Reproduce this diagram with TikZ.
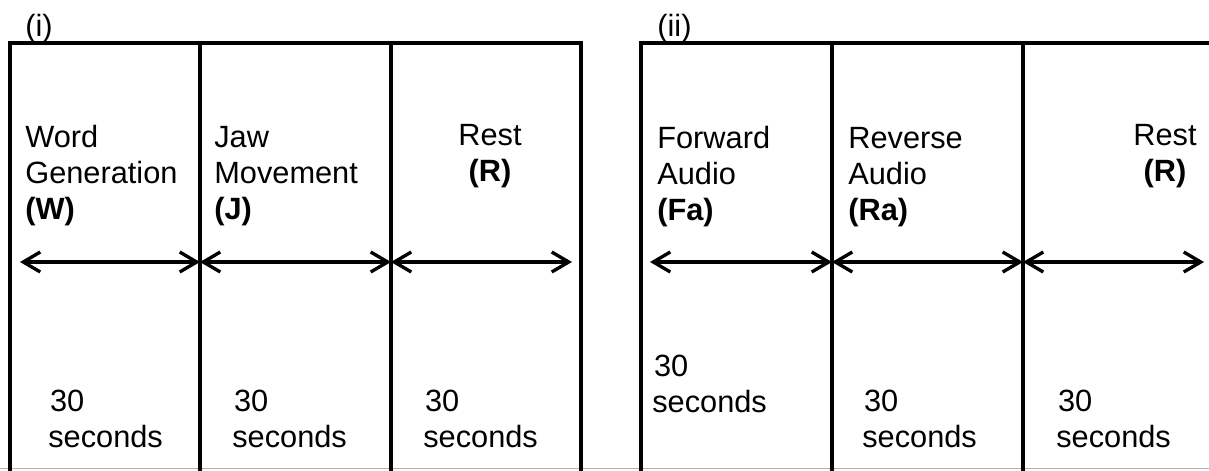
\documentclass[tikz,border=0pt]{standalone}
\usepackage{fontspec}
\setmainfont{Liberation Sans}
\usepackage{tikz}
\usetikzlibrary{arrows.meta, positioning, calc}
\tikzset{
    bord/.style={line width=2.2pt, black, line cap=rect},
    fleche/.style={{Straight Barb[length=3.4mm, width=4mm]}-{Straight Barb[length=3.4mm, width=4mm]}, line width=1.9pt},
    texte/.style={anchor=base west, align=left, inner sep=0pt, font=\fontsize{17.5}{20.4}\selectfont},
    texte centre/.style={texte, anchor=base, align=center},
}

\begin{document}
\begin{tikzpicture}[x=0.02cm, y=-0.02cm]
\useasboundingbox (0,0) rectangle (1209,470);
\draw[gray!60, line width=0.5pt] (0,468.5) -- (1209,468.5);
% (i)
\draw[bord] (10,475) -- (10,43) -- (581,43) -- (581,475);
\draw[bord] (200,43) -- (200,475);
\draw[bord] (391,43) -- (391,475);
% (ii)
\draw[bord] (641,475) -- (641,43) -- (1215,43);
\draw[bord] (832,43) -- (832,475);
\draw[bord] (1023,43) -- (1023,475);
% fleches
\coordinate (a0) at (20,262);
\coordinate (a1) at (200,262);
\coordinate (a2) at (391,262);
\coordinate (a3) at (572,262);
\coordinate (b0) at (650,262);
\coordinate (b1) at (832,262);
\coordinate (b2) at (1023,262);
\coordinate (b3) at (1204,262);
\draw[fleche] (a0) -- (a1);
\draw[fleche] (a1) -- (a2);
\draw[fleche] (a2) -- (a3);
\draw[fleche] (b0) -- (b1);
\draw[fleche] (b1) -- (b2);
\draw[fleche] (b2) -- (b3);
% titres (base = derniere ligne)
\node[texte] (ti) at (25,36) {(i)};
\node[texte] (tii) at (657,36) {(ii)};
\node[texte] (w) at (25,219) {Word\\Generation\\\textbf{(W)}};
\node[texte] (j) at (214,219) {Jaw\\Movement\\\textbf{(J)}};
\node[texte centre] (r1) at (490,181) {Rest\\\textbf{(R)}};
\node[texte] (fa) at (657,220) {Forward\\Audio\\\textbf{(Fa)}};
\node[texte] (ra) at (848,220) {Reverse\\Audio\\\textbf{(Ra)}};
\node[texte centre] (r2) at (1165,181) {Rest\\\textbf{(R)}};
% durees
\node[texte] (d1) at (48,447) {\kern1pt 30\\seconds};
\node[texte] (d2) at (232,447) {\kern1pt 30\\seconds};
\node[texte] (d3) at (423,447) {\kern1pt 30\\seconds};
\node[texte] (d4) at (652,412) {\kern1pt 30\\seconds};
\node[texte] (d5) at (862,447) {\kern1pt 30\\seconds};
\node[texte] (d6) at (1056,447) {\kern1pt 30\\seconds};
\end{tikzpicture}
\end{document}
